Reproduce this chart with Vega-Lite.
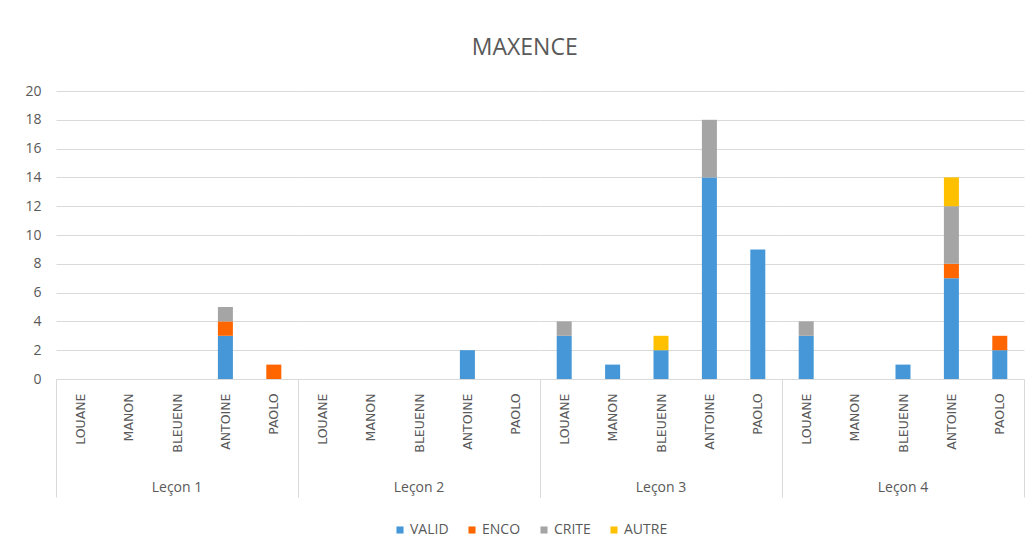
{
  "$schema": "https://vega.github.io/schema/vega-lite/v6.json",
  "background": "white",
  "padding": {"left": 24, "top": 37, "right": 5, "bottom": 5},
  "title": {"text": "MAXENCE", "fontSize": 23, "font": "Open Sans", "fontWeight": "normal", "color": "#595959", "anchor": "middle", "offset": 24},
  "data": {"values": [
    {"lecon": "Leçon 1", "eleve": "ANTOINE", "type": "VALID", "n": 3},
    {"lecon": "Leçon 1", "eleve": "ANTOINE", "type": "ENCO", "n": 1},
    {"lecon": "Leçon 1", "eleve": "ANTOINE", "type": "CRITE", "n": 1},
    {"lecon": "Leçon 1", "eleve": "PAOLO", "type": "ENCO", "n": 1},
    {"lecon": "Leçon 2", "eleve": "ANTOINE", "type": "VALID", "n": 2},
    {"lecon": "Leçon 3", "eleve": "LOUANE", "type": "VALID", "n": 3},
    {"lecon": "Leçon 3", "eleve": "LOUANE", "type": "CRITE", "n": 1},
    {"lecon": "Leçon 3", "eleve": "MANON", "type": "VALID", "n": 1},
    {"lecon": "Leçon 3", "eleve": "BLEUENN", "type": "VALID", "n": 2},
    {"lecon": "Leçon 3", "eleve": "BLEUENN", "type": "AUTRE", "n": 1},
    {"lecon": "Leçon 3", "eleve": "ANTOINE", "type": "VALID", "n": 14},
    {"lecon": "Leçon 3", "eleve": "ANTOINE", "type": "CRITE", "n": 4},
    {"lecon": "Leçon 3", "eleve": "PAOLO", "type": "VALID", "n": 9},
    {"lecon": "Leçon 4", "eleve": "LOUANE", "type": "VALID", "n": 3},
    {"lecon": "Leçon 4", "eleve": "LOUANE", "type": "CRITE", "n": 1},
    {"lecon": "Leçon 4", "eleve": "BLEUENN", "type": "VALID", "n": 1},
    {"lecon": "Leçon 4", "eleve": "ANTOINE", "type": "VALID", "n": 7},
    {"lecon": "Leçon 4", "eleve": "ANTOINE", "type": "ENCO", "n": 1},
    {"lecon": "Leçon 4", "eleve": "ANTOINE", "type": "CRITE", "n": 4},
    {"lecon": "Leçon 4", "eleve": "ANTOINE", "type": "AUTRE", "n": 2},
    {"lecon": "Leçon 4", "eleve": "PAOLO", "type": "VALID", "n": 2},
    {"lecon": "Leçon 4", "eleve": "PAOLO", "type": "ENCO", "n": 1}
  ]},
  "transform": [{"calculate": "indexof(['VALID','ENCO','CRITE','AUTRE'], datum.type)", "as": "ord"}],
  "facet": {"column": {"field": "lecon", "type": "nominal", "title": null,
    "header": {"labelOrient": "bottom", "labelFontSize": 14, "labelColor": "#595959", "labelPadding": -17, "labelFont": "Open Sans"}}},
  "spacing": 0,
  "spec": {
    "width": 242,
    "height": 288,
    "mark": {"type": "bar", "width": {"band": 0.31}},
    "encoding": {
      "x": {"field": "eleve", "type": "nominal",
        "scale": {"domain": ["LOUANE", "MANON", "BLEUENN", "ANTOINE", "PAOLO"], "paddingInner": 0, "paddingOuter": 0},
        "axis": {"title": null, "grid": false, "domain": true, "domainColor": "#d9d9d9", "ticks": true, "tickSize": 118, "tickColor": "#d9d9d9", "tickBand": "extent",
          "tickOpacity": {"condition": {"test": "datum.value === 'PAOLO' || datum.value == null", "value": 1}, "value": 0},
          "labelAngle": -90, "labelPadding": -104, "labelFontSize": 12.5, "labelFont": "DejaVu Sans", "labelColor": "#595959"}},
      "y": {"field": "n", "type": "quantitative", "stack": "zero",
        "scale": {"domain": [0, 20]},
        "axis": {"title": null, "values": [0, 2, 4, 6, 8, 10, 12, 14, 16, 18, 20], "domain": false, "ticks": false, "gridColor": "#d9d9d9", "labelPadding": 15, "labelFontSize": 14, "labelFont": "Open Sans", "labelColor": "#595959"}},
      "color": {"field": "type", "type": "nominal",
        "scale": {"domain": ["VALID", "ENCO", "CRITE", "AUTRE"], "range": ["#4597d8", "#ff6600", "#a5a5a5", "#ffc000"]},
        "legend": {"title": null, "orient": "none", "legendX": 337, "legendY": 432, "direction": "horizontal", "symbolType": "square", "symbolSize": 50, "labelFontSize": 14, "labelFont": "Open Sans", "labelColor": "#595959", "columnPadding": 16, "labelOffset": 3}},
      "order": {"field": "ord", "type": "quantitative"}
    }
  },
  "config": {"view": {"stroke": null}}
}
